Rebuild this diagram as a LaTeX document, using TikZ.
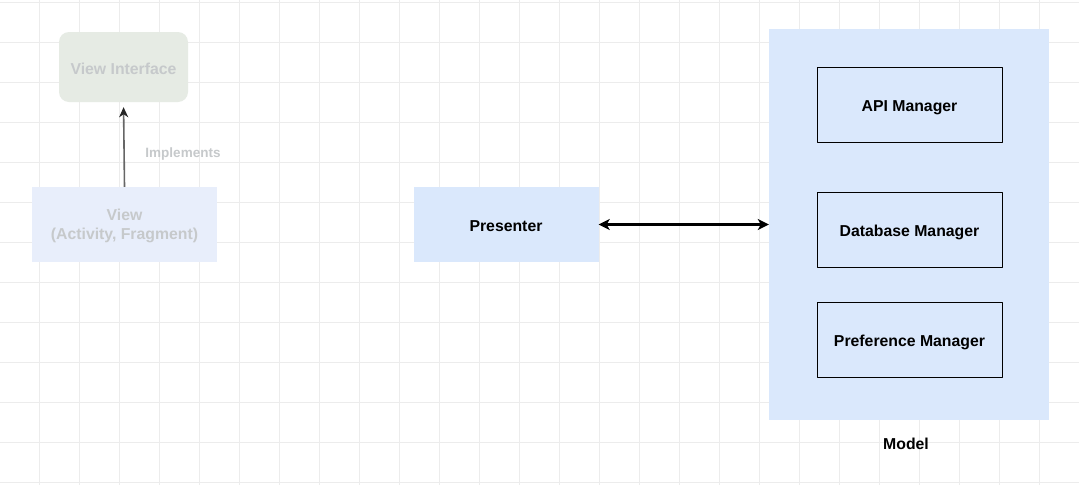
\documentclass[tikz,border=0pt]{standalone}
\usepackage{fontspec}
\setmainfont{Liberation Sans}
\usetikzlibrary{arrows.meta}

\definecolor{modelblue}{HTML}{DAE8FC}
\definecolor{fadeblue}{HTML}{E8EEFB}
\definecolor{fadegreen}{HTML}{E6EBE4}
\definecolor{fadetext}{HTML}{C6C9CB}
\definecolor{gridgray}{HTML}{ECECEC}

\tikzset{
  box/.style={rectangle, minimum width=185pt, minimum height=75pt, inner sep=0pt, align=center,
    text height=14pt, text depth=0pt, font=\fontsize{15.8}{19.5}\selectfont\bfseries},
  fadebox/.style={box, fill=fadeblue, text=fadetext},
  mgrbox/.style={box, draw=black, line width=1pt},
}

\begin{document}
\begin{tikzpicture}[x=1pt, y=-1pt, line join=round]
\useasboundingbox (0,0) rectangle (1079,485);
\fill[white] (0,0) rectangle (1079,485);
% background grid
\foreach \gx in {39.5,79.5,...,1079} \draw[gridgray, line width=1pt] (\gx,0) -- (\gx,485);
\foreach \gy in {2,42,...,485} \draw[gridgray, line width=1pt] (0,\gy) -- (1079,\gy);

\node[fadebox, fill=fadegreen, minimum width=129pt, minimum height=70pt, rounded corners=10pt] (viewif) at (123.5,67) {View Interface};
\node[fadebox, text height=, text depth=0pt] (view) at (124.5,224.5) {View\\(Activity, Fragment)};
\node[box, fill=modelblue] (presenter) at (506,224.5) {Presenter};
\node[rectangle, fill=modelblue, minimum width=280pt, minimum height=391pt, inner sep=0pt] (model) at (909,224.5) {};
\node[mgrbox] (api) at (909.5,104.5) {API Manager};
\node[mgrbox] (db) at (909.5,229.5) {Database Manager};
\node[mgrbox] (pref) at (909.5,339.5) {Preference Manager};
\node[font=\fontsize{15.8}{19}\selectfont\bfseries] (modellabel) at (906,444) {Model};

\draw[color=black!60, line width=1.6pt, -{Stealth[length=10pt, width=9pt, inset=3pt, black!85]}, shorten >=5pt] (view.north) -- (viewif.south);
\node[text=fadetext, font=\fontsize{13.5}{16}\selectfont\bfseries] (impl) at (183,154) {Implements};
\draw[line width=2.2pt, {Stealth[length=11pt, width=11pt, inset=3pt]}-{Stealth[length=11pt, width=11pt, inset=3pt]}] (presenter.east) -- (model.west);
\end{tikzpicture}
\end{document}
